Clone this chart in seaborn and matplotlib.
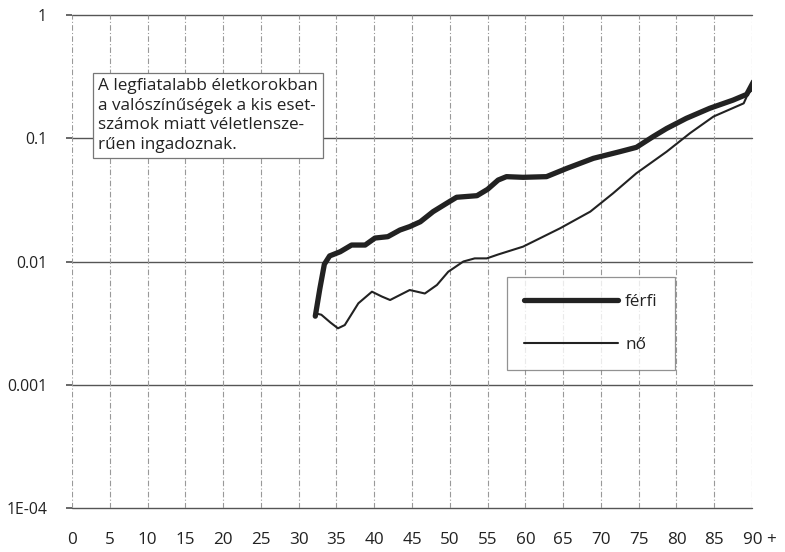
import numpy as np
import pandas as pd
import matplotlib
matplotlib.use("Agg")
import matplotlib.pyplot as plt
import matplotlib.transforms as mtrans
import seaborn as sns

# ---- data ----
ages_male = [32.2, 32.8, 33.4, 34.1, 35.5, 37.0, 38.8, 40.1, 41.8, 43.4, 44.7, 46.1,
             47.8, 49.6, 50.9, 53.6, 55.0, 56.4, 57.5, 59.7, 62.8, 65.5, 69.0, 72.5,
             74.7, 76.9, 78.7, 81.3, 84.4, 87.5, 89.3, 90.2]
p_male = [0.0036, 0.0060, 0.0095, 0.0111, 0.0120, 0.0136, 0.0136, 0.0155, 0.0159,
          0.0180, 0.0192, 0.0210, 0.0254, 0.0297, 0.0332, 0.0342, 0.0385, 0.0458,
          0.0488, 0.0482, 0.0488, 0.0570, 0.0687, 0.0778, 0.0844, 0.1030, 0.1200,
          0.1450, 0.1750, 0.2040, 0.2270, 0.2880]

ages_female = [32.2, 33.0, 34.2, 35.2, 36.1, 37.9, 39.7, 41.0, 42.1, 44.7, 46.7, 48.3,
               49.8, 51.8, 53.3, 54.9, 56.4, 59.7, 64.6, 68.6, 71.6, 74.7, 78.7, 81.8,
               84.9, 88.9, 89.5, 90.0]
p_female = [0.0038, 0.0037, 0.0032, 0.00287, 0.00305, 0.00458, 0.00569, 0.0052, 0.00487,
            0.00587, 0.0055, 0.00645, 0.00826, 0.0100, 0.0106, 0.0106, 0.0114, 0.0132,
            0.0186, 0.0254, 0.0357, 0.0520, 0.0778, 0.1100, 0.1500, 0.1920, 0.2320, 0.2450]

x_ticks = list(range(0, 91, 5))
x_tick_labels = [str(v) for v in range(0, 90, 5)] + ["90 +"]
y_ticks = [1e-4, 1e-3, 1e-2, 1e-1, 1]
y_tick_labels = ["1E-04", "0.001", "0.01", "0.1", "1"]
series_names = ["férfi", "nő"]
note_text = ("A legfiatalabb életkorokban\n"
             "a valószínűségek a kis eset-\n"
             "számok miatt véletlensze-\n"
             "rűen ingadoznak.")

df = pd.concat([
    pd.DataFrame({"age": ages_male, "p": p_male, "sex": series_names[0]}),
    pd.DataFrame({"age": ages_female, "p": p_female, "sex": series_names[1]}),
], ignore_index=True)

sns.set_theme(style="white")
plt.rcParams["font.family"] = ["Open Sans", "DejaVu Sans"]

fig = plt.figure(figsize=(7.85, 5.52), dpi=100)
ax = fig.add_axes([72 / 785, (552 - 508) / 552, 680 / 785, 493 / 552])

ink = "#222222"
fs = 12.3
sns.lineplot(data=df[df.sex == series_names[0]], x="age", y="p", ax=ax,
             color=ink, linewidth=3.8, label=series_names[0], sort=False,
             estimator=None, solid_capstyle="round")
sns.lineplot(data=df[df.sex == series_names[1]], x="age", y="p", ax=ax,
             color=ink, linewidth=1.5, label=series_names[1], sort=False,
             estimator=None)

ax.set_yscale("log")
ax.set_xlim(0, 90)
ax.set_ylim(1e-4, 1)
ax.set_xticks(x_ticks)
ax.set_xticklabels(x_tick_labels)
ax.set_yticks(y_ticks)
ax.set_yticklabels(y_tick_labels)
ax.yaxis.set_minor_locator(matplotlib.ticker.NullLocator())
ax.set_xlabel("")
ax.set_ylabel("")

for s in ax.spines.values():
    s.set_visible(False)

ax.grid(False)
for yv in y_ticks:
    ax.axhline(yv, color="#555555", linewidth=1.0, zorder=0, clip_on=False)
for xv in x_ticks:
    ax.axvline(xv, color="#999999", linewidth=0.8, linestyle=(0, (5, 2, 1, 2)), zorder=0)

ax.tick_params(axis="y", length=4, color="#555555", pad=14, labelsize=11.3, labelcolor="#222222", left=True)
ax.tick_params(axis="x", length=0, pad=17, labelsize=fs, labelcolor="#222222", bottom=True)
lbls = ax.get_xticklabels()
lbls[-1].set_transform(lbls[-1].get_transform() + mtrans.ScaledTranslation(8 / 100, 0, fig.dpi_scale_trans))

ax.text(0.038, 0.872, note_text, transform=ax.transAxes, ha="left", va="top",
        fontsize=fs, color="#222222", linespacing=1.3,
        bbox=dict(boxstyle="square,pad=0.3", fc="white", ec="#777777", lw=0.9))

leg = ax.legend(loc="upper left", bbox_to_anchor=(0.64, 0.469), frameon=True,
                fancybox=False, handlelength=5.5, labelspacing=1.6,
                handletextpad=0.4, borderpad=1.0, borderaxespad=0,
                fontsize=fs)
leg.get_frame().set_edgecolor("#777777")
leg.get_frame().set_linewidth(0.9)
for t in leg.get_texts():
    t.set_color("#222222")

fig.savefig("out.png", dpi=100, facecolor="white")
